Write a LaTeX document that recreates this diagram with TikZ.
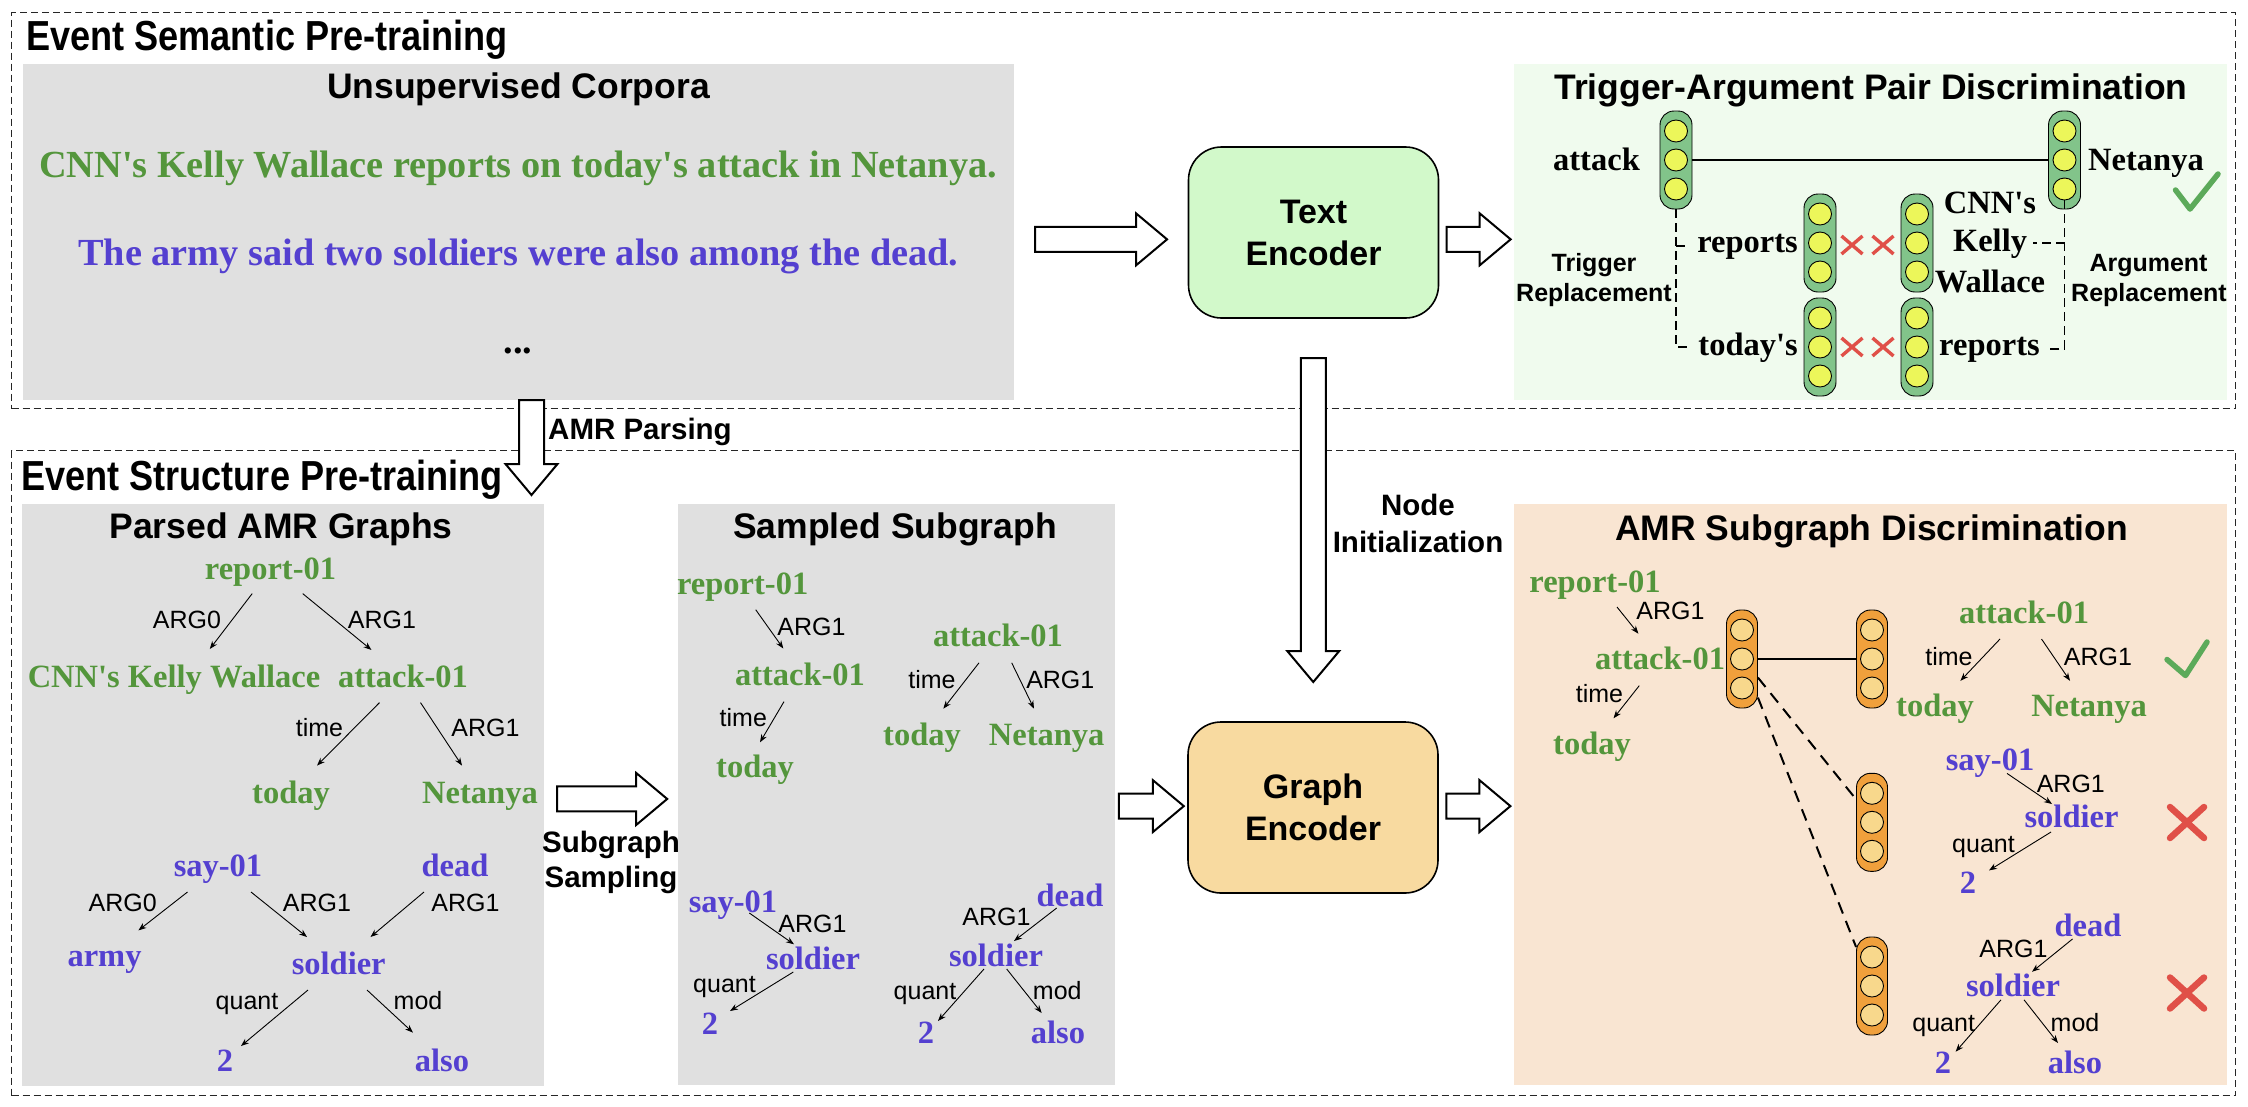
\documentclass[tikz,border=0pt]{standalone}
\usepackage{fontspec}
\setmainfont{Liberation Serif}
\setsansfont{Liberation Sans}
\newfontfamily\condsans[FakeStretch=0.86]{Liberation Sans}
\usetikzlibrary{shapes.geometric,arrows.meta,calc}
\newcommand\fsz[2]{\fontsize{#1}{#2}\selectfont}
\newcommand\apos{\textquotesingle}
\definecolor{tgreen}{RGB}{84,150,60}
\definecolor{tblue}{RGB}{84,64,208}
\definecolor{panelgray}{RGB}{224,224,224}
\definecolor{tapdbg}{RGB}{240,251,238}
\definecolor{tencfill}{RGB}{210,249,202}
\definecolor{gencfill}{RGB}{248,218,160}
\definecolor{asdbg}{RGB}{249,229,210}
\definecolor{gcolfill}{RGB}{130,196,138}
\definecolor{gcircfill}{RGB}{236,246,90}
\definecolor{ocolfill}{RGB}{240,160,60}
\definecolor{ocircfill}{RGB}{248,216,140}
\definecolor{xred}{RGB}{224,80,72}
\definecolor{ckgreen}{RGB}{92,170,90}
\newcommand\vcol[5]{%
  \node[#2] (#1) at (#4,#5) {};
  \node[#3] (#1-1) at ([shift={(0,-29)}]#1.center) {};
  \node[#3] (#1-2) at (#1.center) {};
  \node[#3] (#1-3) at ([shift={(0,29)}]#1.center) {};}
\tikzset{
  outerbox/.style={draw=black!85, line width=1.3pt, dash pattern=on 7pt off 4pt, inner sep=0, anchor=north west},
  panel/.style={inner sep=0, anchor=north west, draw=none},
  maintitle/.style={font=\condsans\bfseries\fsz{42}{48}, inner sep=0, anchor=base west},
  boxtitle/.style={font=\sffamily\bfseries\fsz{35.5}{40}, inner sep=0, anchor=base},
  sans/.style={font=\sffamily\bfseries\fsz{29.5}{35}, inner sep=0, anchor=base},
  sanslab/.style={font=\sffamily\bfseries\fsz{25}{30}, inner sep=0, anchor=base},
  ser/.style={font=\bfseries\fsz{32.5}{38}, inner sep=0, anchor=base},
  gr/.style={ser, text=tgreen},
  bl/.style={ser, text=tblue},
  elab/.style={font=\sffamily\fsz{25}{30}, inner sep=0, anchor=base},
  amr/.style={-{Stealth[length=8pt,width=6pt]}, line width=0.9pt},
  hollow/.style={draw=black, line width=2pt, fill=white, line join=miter},
  enc/.style={draw=black, line width=1.6pt, rounded corners=33pt, minimum width=250pt, minimum height=171pt, align=center, font=\sffamily\bfseries\fsz{34}{42}, inner sep=0},
  gcol/.style={draw=black, line width=0.9pt, fill=gcolfill, rounded corners=14pt, minimum width=32pt, minimum height=98pt, inner sep=0},
  ocol/.style={gcol, fill=ocolfill, minimum width=31pt},
  gcirc/.style={ellipse, draw=black, line width=0.9pt, fill=gcircfill, minimum width=23pt, minimum height=22pt, inner sep=0},
  ocirc/.style={gcirc, fill=ocircfill},
  tdash/.style={line width=1.8pt, dash pattern=on 9pt off 5pt},
  odash/.style={line width=2pt, dash pattern=on 12pt off 8pt},
  smallx/.style={xred, line width=3.4pt},
  bigx/.style={xred, line width=6.5pt, line cap=round},
  checkm/.style={ckgreen, line width=5.5pt, line cap=round, line join=round},
  pics/harrow/.style={code={\draw[hollow] (-#1/2,-12.5) -- (#1/2-31,-12.5) -- (#1/2-31,-26) -- (#1/2,0) -- (#1/2-31,26) -- (#1/2-31,12.5) -- (-#1/2,12.5) -- cycle;}},
}
\begin{document}
\begin{tikzpicture}[x=1pt,y=-1pt]
\useasboundingbox (0,0) rectangle (2248,1106);
\fill[white] (0,0) rectangle (2248,1106);
% outer dashed boxes
\node[outerbox, minimum width=2224pt, minimum height=396pt] (sem) at (11,12) {};
\node[outerbox, minimum width=2224pt, minimum height=645pt] (str) at (11,450) {};
% panels
\node[panel, fill=panelgray, minimum width=991pt, minimum height=336pt] (corp) at (23,64) {};
\node[panel, fill=tapdbg, minimum width=713pt, minimum height=336pt] (tapd) at (1514,64) {};
\node[panel, fill=panelgray, minimum width=522pt, minimum height=582pt] (pamr) at (22,504) {};
\node[panel, fill=panelgray, minimum width=437pt, minimum height=581pt] (samp) at (678,504) {};
\node[panel, fill=asdbg, minimum width=713pt, minimum height=581pt] (asd) at (1514,504) {};
% encoders
\node[enc, fill=tencfill] (tenc) at (1313.5,232.5) {Text\\Encoder};
\node[enc, fill=gencfill] (genc) at (1313,807.5) {Graph\\Encoder};
% titles
\node[maintitle] (t1) at (26,50.7) {Event Semantic Pre-training};
\node[maintitle] (t2) at (21,490) {Event Structure Pre-training};
\node[boxtitle] (corpT) at (518.5,98.3) {Unsupervised Corpora};
\node[boxtitle] (tapdT) at (1871,99.3) {Trigger-Argument Pair Discrimination};
\node[boxtitle] (pamrT) at (281,538) {Parsed AMR Graphs};
\node[boxtitle] (sampT) at (895,538) {Sampled Subgraph};
\node[boxtitle] (asdT) at (1871.7,540) {AMR Subgraph Discrimination};
% corpora
\node[ser, font=\bfseries\fsz{38.3}{44}, text=tgreen] (s1) at (518,177.3) {CNN\apos s Kelly Wallace reports on today\apos s attack in Netanya.};
\node[ser, font=\bfseries\fsz{38.3}{44}, text=tblue] (s2) at (518.5,265) {The army said two soldiers were also among the dead.};
\node[ser, font=\bfseries\fsz{38.3}{44}] (s3) at (518,353) {...};
% TAPD
\vcol{ta}{gcol}{gcirc}{1676}{160}
\vcol{tn}{gcol}{gcirc}{2064.5}{160}
\vcol{tr}{gcol}{gcirc}{1820}{243}
\vcol{tc}{gcol}{gcirc}{1917}{243}
\vcol{tt}{gcol}{gcirc}{1820}{347}
\vcol{tq}{gcol}{gcirc}{1917}{347}
\node[ser, anchor=base east] (wattack) at (1640,170) {attack};
\node[ser, anchor=base west] (wnet) at (2088,170.5) {Netanya};
\node[ser, anchor=base east] (wrep) at (1798,252) {reports};
\node[ser, anchor=base east] (wtod) at (1798,355) {today\apos s};
\node[ser] (wcnn) at (1990,213) {CNN\apos s};
\node[ser] (wkel) at (1990,251) {Kelly};
\node[ser] (wwal) at (1990,292) {Wallace};
\node[ser, anchor=base west] (wrep2) at (1939,355) {reports};
\node[sanslab] (trg1) at (1594,271) {Trigger};
\node[sanslab] (trg2) at (1594,301) {Replacement};
\node[sanslab] (arg1) at (2148.5,271) {Argument};
\node[sanslab] (arg2) at (2149,301) {Replacement};
\draw[line width=2pt] (ta.east) -- (tn.west);
\draw[tdash] (ta.south) |- ([xshift=-8pt]wtod.west);
\draw[tdash] (ta.south |- wrep.west) -- ([xshift=-8pt]wrep.west);
\draw[tdash] (tn-3.south) |- ([xshift=8pt]wrep2.east);
\draw[tdash] (tn-3.south |- wkel.east) -- ([xshift=6pt]wkel.east);
\foreach \cx/\cy in {1852/245,1883/245,1852/347,1883/347}{
  \draw[smallx] (\cx-10.5,\cy-9) -- (\cx+10.5,\cy+9);
  \draw[smallx] (\cx-10.5,\cy+9) -- (\cx+10.5,\cy-9);}
\draw[checkm] (2175.5,190) -- (2190,209) -- (2218,174);
% Parsed AMR graphs
\node[gr] (p1) at (270.5,579) {report-01};
\node[gr] (p2) at (174,687) {CNN\apos s Kelly Wallace};
\node[gr] (p3) at (403,687) {attack-01};
\node[gr] (p4) at (291,803) {today};
\node[gr] (p5) at (480,803) {Netanya};
\node[bl] (p6) at (218,876) {say-01};
\node[bl] (p7) at (455,876) {dead};
\node[bl] (p8) at (104.5,966) {army};
\node[bl] (p9) at (338.7,974) {soldier};
\node[bl] (p10) at (225,1071) {2};
\node[bl] (p11) at (442,1071) {also};
\draw[amr] ([shift={(-18.3,14.6)}]p1.base) -- ([shift={(35.8,-38)}]p2.base);
\draw[amr] ([shift={(32.2,14.6)}]p1.base) -- ([shift={(-31.6,-37.1)}]p3.base);
\draw[amr] ([shift={(-23.5,15.6)}]p3.base) -- ([shift={(26,-37.4)}]p4.base);
\draw[amr] ([shift={(17.5,15.6)}]p3.base) -- ([shift={(-18,-37.4)}]p5.base);
\draw[amr] ([shift={(-30.5,16)}]p6.base) -- ([shift={(33.9,-35.6)}]p8.base);
\draw[amr] ([shift={(33,16)}]p6.base) -- ([shift={(-31.7,-37)}]p9.base);
\draw[amr] ([shift={(-31,16)}]p7.base) -- ([shift={(31.8,-37)}]p9.base);
\draw[amr] ([shift={(-30.7,16)}]p9.base) -- ([shift={(16,-25)}]p10.base);
\draw[amr] ([shift={(28.3,16)}]p9.base) -- ([shift={(-29,-38.4)}]p11.base);
\node[elab] (pl1) at (187,628) {ARG0};
\node[elab] (pl2) at (382,628) {ARG1};
\node[elab] (pl3) at (319.5,736.5) {time};
\node[elab] (pl4) at (485.5,736.5) {ARG1};
\node[elab] (pl5) at (122.7,911) {ARG0};
\node[elab] (pl6) at (317,911) {ARG1};
\node[elab] (pl7) at (465.5,911) {ARG1};
\node[elab] (pl8) at (247,1009) {quant};
\node[elab] (pl9) at (418,1009) {mod};
% Sampled subgraph
\node[gr] (s_1) at (742.7,594) {report-01};
\node[gr] (s_2) at (800,685.6) {attack-01};
\node[gr] (s_3) at (755,777.4) {today};
\node[gr] (s_4) at (998,646.5) {attack-01};
\node[gr] (s_5) at (922,745.5) {today};
\node[gr] (s_6) at (1046.7,745.5) {Netanya};
\node[bl] (s_7) at (733,912) {say-01};
\node[bl] (s_8) at (813,969) {soldier};
\node[bl] (s_9) at (710,1034) {2};
\node[bl] (s_10) at (1070,906) {dead};
\node[bl] (s_11) at (996,966) {soldier};
\node[bl] (s_12) at (926,1043) {2};
\node[bl] (s_13) at (1058,1043) {also};
\draw[amr] ([shift={(13,15.7)}]s_1.base) -- ([shift={(-16.7,-37.1)}]s_2.base);
\draw[amr] ([shift={(-16,16)}]s_2.base) -- ([shift={(5,-35.1)}]s_3.base);
\draw[amr] ([shift={(-19,16.3)}]s_4.base) -- ([shift={(21.3,-36.8)}]s_5.base);
\draw[amr] ([shift={(13.7,16.3)}]s_4.base) -- ([shift={(-12.7,-36.8)}]s_6.base);
\draw[amr] ([shift={(16.3,1)}]s_7.base) -- ([shift={(-19,-24.7)}]s_8.base);
\draw[amr] ([shift={(-19.7,3)}]s_8.base) -- ([shift={(20,-23)}]s_9.base);
\draw[amr] ([shift={(-13.3,2)}]s_10.base) -- ([shift={(18,-25)}]s_11.base);
\draw[amr] ([shift={(-12,3)}]s_11.base) -- ([shift={(12,-22)}]s_12.base);
\draw[amr] ([shift={(10.7,3)}]s_11.base) -- ([shift={(-16.3,-30)}]s_13.base);
\node[elab] (sl1) at (811.5,635.7) {ARG1};
\node[elab] (sl2) at (743.3,726.7) {time};
\node[elab] (sl3) at (932,688.4) {time};
\node[elab] (sl4) at (1060.3,688.4) {ARG1};
\node[elab] (sl5) at (812.5,932.3) {ARG1};
\node[elab] (sl6) at (724.5,992) {quant};
\node[elab] (sl7) at (996.5,925) {ARG1};
\node[elab] (sl8) at (925,999) {quant};
\node[elab] (sl9) at (1057.3,999) {mod};
% AMR subgraph discrimination
\vcol{o1}{ocol}{ocirc}{1742}{659}
\vcol{o2}{ocol}{ocirc}{1872}{659}
\vcol{o3}{ocol}{ocirc}{1872}{822.3}
\vcol{o4}{ocol}{ocirc}{1872}{986}
\draw[line width=2pt] (o1.east) -- (o2.west);
\draw[odash] ([shift={(0,18.6)}]o1.east) -- ([shift={(0,-23)}]o3.west);
\draw[odash] ([shift={(0,38.6)}]o1.east) -- ([shift={(0,-39)}]o4.west);
\node[gr] (d_1) at (1595,592) {report-01};
\node[gr] (d_2) at (1660,669.6) {attack-01};
\node[gr] (d_3) at (1592,754.7) {today};
\node[gr] (d_4) at (2024,623.7) {attack-01};
\node[gr] (d_5) at (1935,716.3) {today};
\node[gr] (d_6) at (2089,716.3) {Netanya};
\node[bl] (d_7) at (1990,770.6) {say-01};
\node[bl] (d_8) at (2071.5,827.3) {soldier};
\node[bl] (d_9) at (1968,893) {2};
\node[bl] (d_10) at (2088,936.3) {dead};
\node[bl] (d_11) at (2013,996) {soldier};
\node[bl] (d_12) at (1943,1073.6) {2};
\node[bl] (d_13) at (2075,1073.6) {also};
\draw[amr] ([shift={(22,15)}]d_1.base) -- ([shift={(-21.6,-35.9)}]d_2.base);
\draw[amr] ([shift={(-20.7,16)}]d_2.base) -- ([shift={(21.5,-36.4)}]d_3.base);
\draw[amr] ([shift={(-24,15.3)}]d_4.base) -- ([shift={(25.4,-35.5)}]d_5.base);
\draw[amr] ([shift={(17.5,15.3)}]d_4.base) -- ([shift={(-19,-35.5)}]d_6.base);
\draw[amr] ([shift={(17,2.8)}]d_7.base) -- ([shift={(-19.5,-23.3)}]d_8.base);
\draw[amr] ([shift={(-20.5,4.7)}]d_8.base) -- ([shift={(21,-22.6)}]d_9.base);
\draw[amr] ([shift={(-15.5,2.7)}]d_10.base) -- ([shift={(19,-24.2)}]d_11.base);
\draw[amr] ([shift={(-12,3.8)}]d_11.base) -- ([shift={(12.6,-21.9)}]d_12.base);
\draw[amr] ([shift={(11,3.8)}]d_11.base) -- ([shift={(-17,-30.6)}]d_13.base);
\node[elab] (dl1) at (1670.4,619.7) {ARG1};
\node[elab] (dl2) at (1599.5,702.4) {time};
\node[elab] (dl3) at (1949,665.6) {time};
\node[elab] (dl4) at (2097.9,665.6) {ARG1};
\node[elab] (dl5) at (2070.8,792) {ARG1};
\node[elab] (dl6) at (1983.5,852.5) {quant};
\node[elab] (dl7) at (2013.5,957) {ARG1};
\node[elab] (dl8) at (1943.7,1031) {quant};
\node[elab] (dl9) at (2075,1031) {mod};
\draw[checkm] (2167,659.5) -- (2185.5,675.5) -- (2207,642);
\draw[bigx] (2170,807) -- (2204,838);
\draw[bigx] (2170,838) -- (2204,807);
\draw[bigx] (2170,977.5) -- (2204,1008.5);
\draw[bigx] (2170,1008.5) -- (2204,977.5);
% labels
\node[sans, anchor=base west] (lparse) at (548,439) {AMR Parsing};
\node[sans] (lni1) at (1418,515) {Node};
\node[sans] (lni2) at (1418,552) {Initialization};
\node[sans] (lss1) at (611,852.5) {Subgraph};
\node[sans] (lss2) at (611,887.6) {Sampling};
% hollow arrows
\pic at ($(corp.east)!0.5!(tenc.west)+(0,7)$) {harrow=132};
\pic at ($(tenc.east)!0.5!(tapd.west)+(2,7)$) {harrow=64};
\pic[rotate=-90] at (531.5,447.5) {harrow=95};
\pic[rotate=-90] at ($(tenc.south)!0.5!(genc.north)$) {harrow=324};
\pic at ($(pamr.east)!0.5!(samp.west)+(1,4)$) {harrow=110};
\pic at ($(samp.east)!0.5!(genc.west)+(0,5)$) {harrow=65};
\pic at ($(genc.east)!0.5!(asd.west)+(2,5)$) {harrow=64};
\end{tikzpicture}
\end{document}
